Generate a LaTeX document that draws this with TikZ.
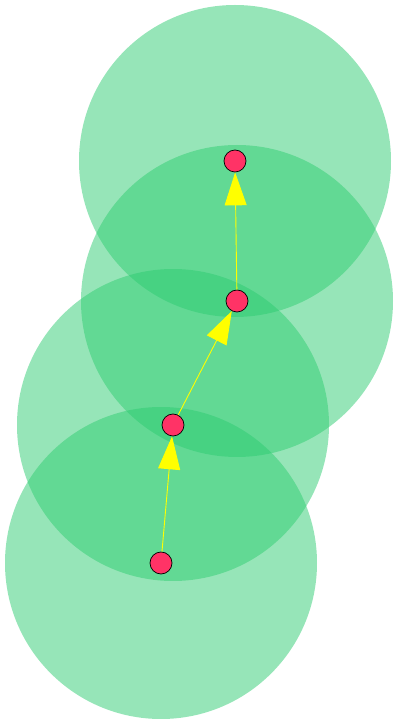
\documentclass[tikz,border=0pt]{standalone}
\usetikzlibrary{arrows.meta}
\definecolor{zone}{HTML}{2ECC71}
\definecolor{dot}{HTML}{FF3366}
\definecolor{arr}{HTML}{FFFF00}
\tikzset{
  zonecircle/.style={fill=zone, fill opacity=0.5, draw=none},
  dotnode/.style={circle, fill=dot, draw=black, line width=0.7pt, minimum size=22pt, inner sep=0pt},
  link/.style={draw=arr, line width=0.9pt, -{Triangle[length=33pt,width=22pt]}}
}
\begin{document}
\begin{tikzpicture}[x=1pt,y=1pt]
\useasboundingbox (0,0) rectangle (395,724);
\fill[zonecircle] (235,563) circle (156);
\fill[zonecircle] (237,423) circle (156);
\fill[zonecircle] (173,299) circle (156);
\fill[zonecircle] (161,161) circle (156);
\node[dotnode] (n1) at (161,161) {};
\node[dotnode] (n2) at (173,299) {};
\node[dotnode] (n3) at (237,423) {};
\node[dotnode] (n4) at (235,563) {};
\draw[link] (n1) -- (n2);
\draw[link] (n2) -- (n3);
\draw[link] (n3) -- (n4);
\end{tikzpicture}
\end{document}
